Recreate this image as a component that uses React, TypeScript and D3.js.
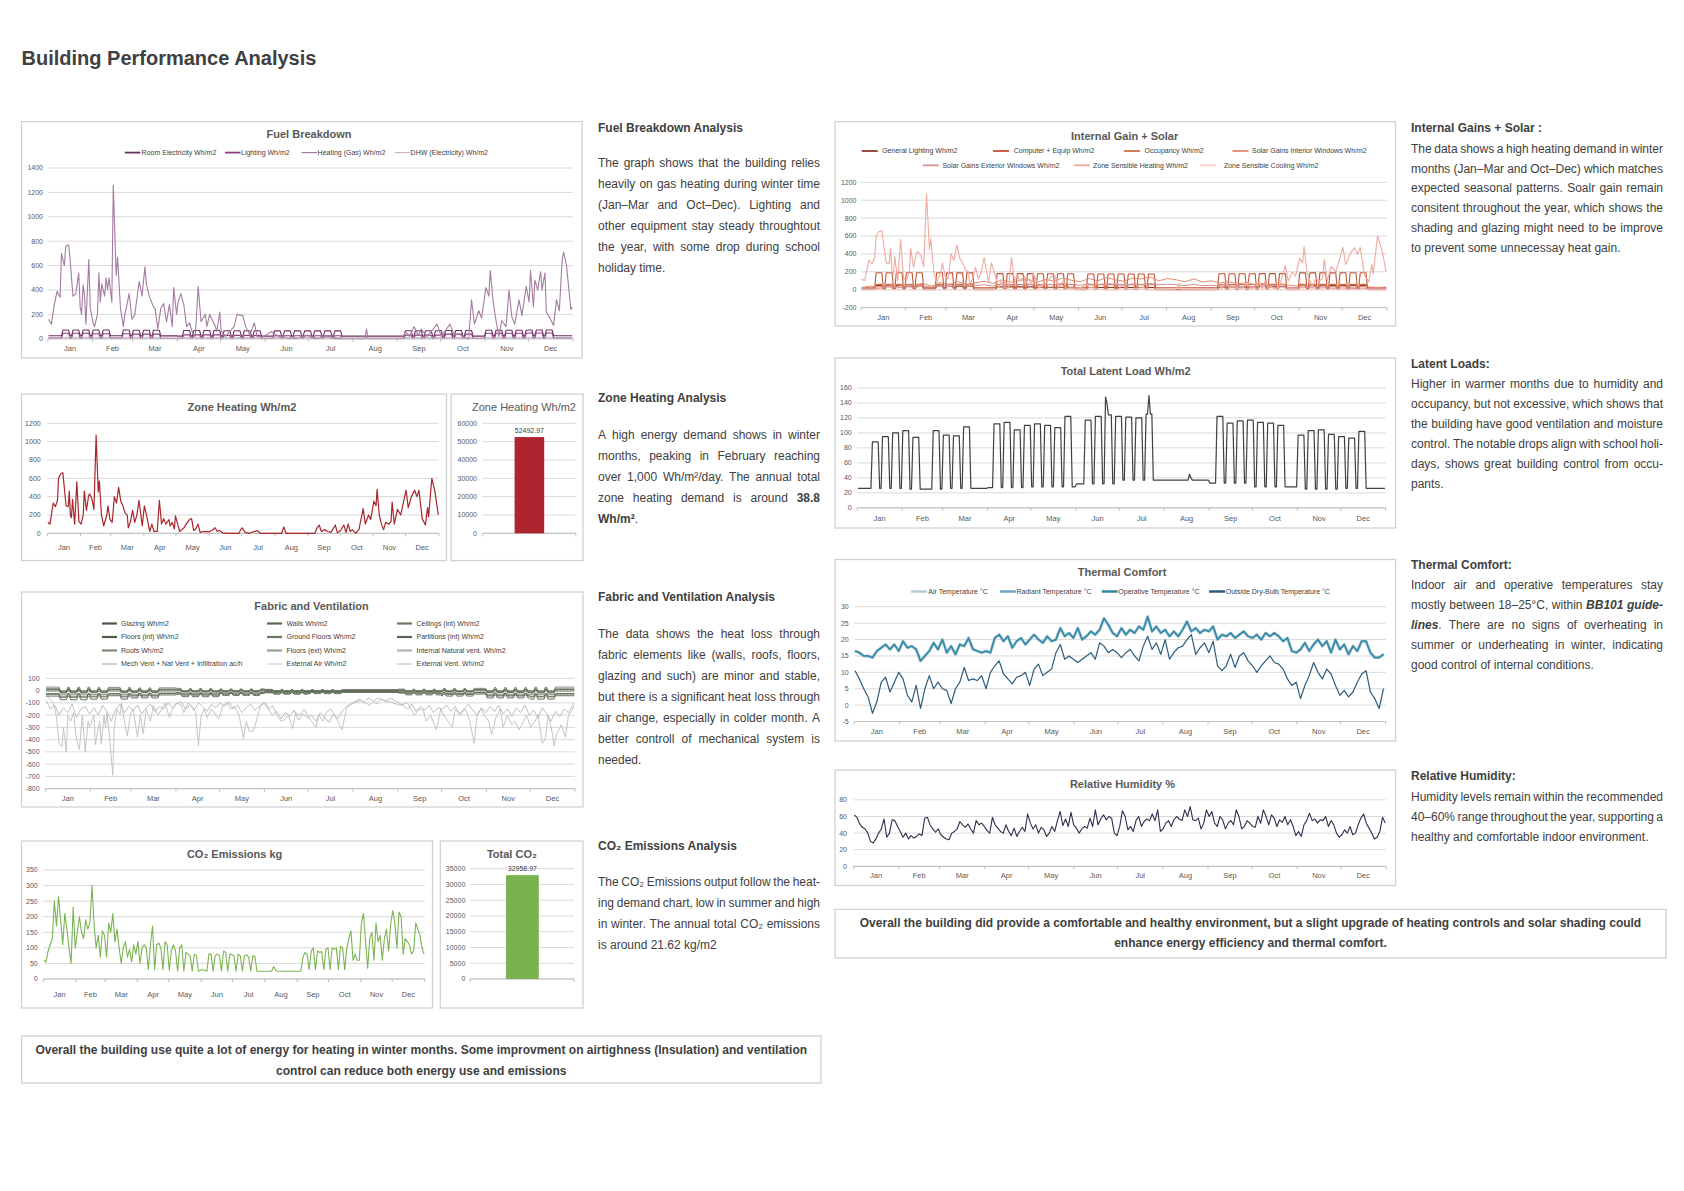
import React from 'react';
import * as d3 from 'd3';

type Pt = [number, number];

const FONT = '"Liberation Sans", Arial, Helvetica, sans-serif';
const TEXT = '#404040';
const AXIS_TEXT = '#595959';
const GRID = '#d9d9d9';
const BORDER = '#d2d2d2';

// ---------- calendar / axis data ----------
const MONTHS = ['Jan', 'Feb', 'Mar', 'Apr', 'May', 'Jun', 'Jul', 'Aug', 'Sep', 'Oct', 'Nov', 'Dec'];
const MONTH_STARTS = [0, 31, 59, 90, 120, 151, 181, 212, 243, 273, 304, 334, 365];
// Mondays of occupied school weeks (day of year)
const TERM_WEEK_STARTS = [10, 17, 24, 31, 38, 52, 59, 66, 73, 94, 101, 108, 115, 122, 129, 136, 143, 157, 164, 171, 178, 185, 192, 199, 248, 255, 262, 269, 276, 283, 290, 304, 311, 318, 325, 332, 339, 346];

// ---------- Fuel breakdown ----------
const ROOM_ELEC_ON = [72, 72, 70, 68, 66, 65, 65, 60, 66, 68, 70, 72];
const ROOM_ELEC_OFF = [25, 25, 24, 22, 22, 22, 22, 22, 22, 22, 24, 25];
const LIGHTING_ON = [45, 42, 38, 32, 28, 25, 25, 25, 30, 38, 45, 48];
const LIGHTING_OFF = [6, 6, 5, 5, 4, 4, 4, 4, 4, 5, 6, 6];
const DHW_ON = [12, 12, 12, 11, 11, 10, 10, 10, 11, 11, 12, 12];
const DHW_OFF = [3, 3, 3, 3, 3, 3, 3, 3, 3, 3, 3, 3];
const HEATING_GAS: Pt[] = [[0,160],[2,120],[4,280],[6,390],[8,340],[9,700],[11,600],[12,760],[14,770],[15,650],[17,350],[19,370],[21,540],[22,260],[23,200],[24,440],[25,360],[26,120],[28,650],[29,250],[31,130],[32,100],[34,200],[35,540],[36,300],[37,450],[39,350],[40,500],[41,400],[42,500],[44,300],[45,1260],[47,520],[48,670],[50,250],[52,100],[53,200],[54,250],[56,370],[58,160],[60,200],[63,470],[65,350],[67,590],[68,450],[70,350],[73,260],[74,250],[76,80],[78,250],[80,290],[82,140],[84,280],[86,100],[87,420],[89,200],[90,300],[92,370],[94,280],[96,100],[98,130],[100,50],[102,20],[104,430],[106,140],[109,200],[110,100],[112,200],[114,150],[116,100],[117,60],[119,220],[120,60],[123,20],[126,60],[129,100],[131,200],[135,190],[137,100],[140,30],[143,130],[145,20],[148,10],[151,30],[155,60],[160,20],[165,10],[170,0],[175,10],[180,30],[185,0],[195,20],[200,0],[220,0],[221,80],[222,0],[246,0],[248,60],[251,20],[254,100],[257,30],[259,80],[263,20],[266,60],[270,120],[273,20],[276,70],[279,120],[282,30],[285,40],[290,10],[292,0],[294,320],[296,120],[299,230],[301,170],[304,420],[306,350],[307,560],[309,300],[311,150],[313,20],[315,150],[318,100],[320,400],[322,180],[324,120],[327,320],[329,190],[332,430],[334,300],[335,560],[337,260],[338,480],[340,400],[342,550],[343,400],[345,540],[346,220],[348,180],[351,110],[353,320],[355,230],[357,650],[358,710],[360,600],[363,240],[364,260]];

// ---------- Zone heating ----------
const ZONE_HEATING: Pt[] = [[0,120],[2,100],[5,330],[7,290],[9,360],[10,600],[12,650],[14,660],[17,300],[19,290],[20,460],[21,200],[22,170],[23,370],[25,100],[27,560],[29,130],[31,100],[33,200],[34,460],[36,250],[38,410],[39,430],[41,380],[43,260],[45,1070],[47,450],[48,570],[50,200],[52,80],[55,200],[56,300],[58,150],[60,120],[62,400],[64,330],[66,500],[68,350],[70,300],[72,220],[74,200],[75,60],[77,120],[79,250],[81,120],[83,200],[85,360],[88,80],[90,300],[92,200],[95,20],[97,100],[99,20],[102,20],[104,360],[106,100],[108,160],[110,100],[113,150],[114,80],[116,120],[118,50],[119,190],[121,100],[123,20],[125,40],[127,60],[129,100],[132,150],[134,160],[136,30],[138,50],[140,100],[142,10],[145,20],[150,15],[153,30],[156,60],[158,20],[160,30],[163,5],[170,0],[178,0],[181,60],[184,10],[188,0],[195,30],[198,0],[218,0],[220,70],[222,0],[249,0],[251,60],[253,90],[255,20],[258,40],[261,20],[264,10],[268,90],[270,5],[273,30],[276,90],[278,10],[280,100],[282,20],[284,40],[287,0],[290,40],[294,270],[296,100],[299,200],[301,150],[304,350],[306,300],[307,480],[309,200],[311,100],[313,40],[315,120],[318,100],[320,130],[321,340],[323,100],[326,260],[329,200],[334,470],[336,280],[339,400],[342,470],[344,400],[346,470],[349,160],[352,90],[354,280],[355,180],[358,600],[361,450],[364,200]];
const ZONE_HEATING_TOTAL = 52492.97;

// ---------- Fabric & ventilation ----------
const GLAZING_ON = [-75, -70, -60, -50, -40, -30, -25, -25, -35, -45, -60, -70];
const GLAZING_OFF = [-45, -42, -36, -30, -24, -18, -15, -15, -20, -28, -36, -42];
const WALLS_ON = [-55, -52, -45, -38, -30, -22, -18, -18, -25, -32, -45, -52];
const WALLS_OFF = [-30, -28, -24, -20, -16, -12, -10, -10, -14, -18, -24, -28];
const CEILINGS_ON = [-5, -5, -4, -3, -2, -2, -1, -1, -2, -3, -4, -5];
const CEILINGS_OFF = [28, 26, 22, 18, 14, 10, 8, 8, 12, 18, 24, 28];
const FLOORS_INT_ON = [-20, -18, -15, -12, -10, -8, -6, -6, -8, -12, -16, -20];
const FLOORS_INT_OFF = [8, 8, 6, 5, 4, 3, 2, 2, 3, 5, 7, 8];
const GROUND_ON = [-35, -33, -30, -25, -20, -15, -12, -12, -18, -24, -30, -34];
const GROUND_OFF = [-25, -24, -21, -18, -14, -10, -8, -8, -12, -16, -21, -24];
const PARTITIONS_ON = [-12, -11, -10, -8, -6, -5, -4, -4, -5, -7, -10, -12];
const PARTITIONS_OFF = [15, 14, 12, 10, 8, 6, 5, 5, 6, 9, 12, 14];
const ROOFS_ON = [-50, -46, -40, -33, -26, -18, -14, -14, -20, -28, -40, -48];
const ROOFS_OFF = [-28, -26, -22, -18, -14, -10, -8, -8, -11, -16, -22, -26];
const FLOORS_EXT_ON = [-12, -11, -10, -8, -6, -4, -3, -3, -5, -7, -10, -12];
const FLOORS_EXT_OFF = [-8, -7, -6, -5, -4, -3, -2, -2, -3, -5, -6, -8];
const INT_NAT_VENT_ON = [-3, -3, -2, -2, -1, -1, -1, -1, -1, -2, -2, -3];
const INT_NAT_VENT_OFF = [0, 0, 0, 0, 0, 0, 0, 0, 0, 0, 0, 0];
const MECH_VENT_ACH_ON = [1, 1, 1, 1, 1, 1, 1, 1, 1, 1, 1, 1];
const MECH_VENT_ACH_OFF = [0.5, 0.5, 0.5, 0.5, 0.5, 0.5, 0.5, 0.5, 0.5, 0.5, 0.5, 0.5];
const EXTERNAL_AIR: Pt[] = [[1,-50],[5,-100],[7,-200],[9,-430],[11,-460],[12,-300],[14,-500],[15,-200],[17,-250],[19,-180],[20,-300],[21,-400],[23,-480],[25,-200],[27,-500],[29,-250],[30,-300],[33,-200],[34,-440],[37,-250],[38,-440],[40,-200],[41,-300],[42,-180],[44,-400],[46,-690],[47,-300],[49,-150],[51,-200],[52,-100],[54,-250],[56,-370],[58,-200],[60,-150],[63,-380],[65,-200],[67,-350],[69,-150],[72,-250],[74,-120],[77,-200],[80,-150],[82,-100],[85,-220],[87,-150],[90,-100],[93,-120],[95,-180],[98,-100],[101,-130],[103,-170],[105,-450],[107,-200],[109,-150],[111,-220],[114,-150],[117,-200],[119,-230],[122,-120],[125,-100],[127,-150],[130,-130],[133,-200],[136,-390],[138,-250],[140,-330],[143,-330],[146,-200],[148,-120],[151,-100],[154,-150],[156,-120],[159,-200],[162,-250],[164,-240],[167,-200],[170,-310],[172,-180],[175,-200],[178,-150],[180,-200],[183,-250],[186,-300],[188,-200],[191,-250],[193,-180],[196,-150],[199,-200],[201,-250],[204,-320],[207,-150],[209,-120],[212,-100],[217,-80],[223,-120],[228,-60],[233,-80],[239,-100],[244,-120],[249,-100],[254,-200],[257,-150],[260,-160],[262,-250],[265,-200],[269,-320],[272,-150],[274,-200],[277,-250],[280,-300],[282,-150],[285,-200],[289,-150],[292,-250],[295,-430],[297,-200],[300,-150],[302,-200],[305,-250],[307,-360],[310,-220],[313,-150],[315,-300],[318,-200],[321,-280],[323,-250],[326,-320],[329,-250],[331,-200],[334,-300],[337,-250],[339,-200],[342,-430],[344,-400],[346,-200],[349,-350],[350,-450],[352,-350],[355,-280],[358,-380],[360,-200],[363,-150],[364,-100]];
// every 3 days
const EXTERNAL_VENT = [-80,-150,-120,-200,-140,-180,-110,-220,-150,-130,-190,
  -140,-200,-120,-170,-250,-150,-110,-180,-130,
  -160,-120,-190,-140,-110,-170,-130,-150,-100,-140,
  -110,-90,-150,-120,-160,-100,-130,-170,-110,-140,
  -100,-130,-90,-150,-120,-180,-140,-110,-160,-130,-100,
  -150,-200,-170,-230,-180,-210,-160,-240,-190,-220,
  -200,-250,-180,-220,-260,-190,-230,-170,-130,-110,
  -90,-70,-100,-60,-80,-110,-70,-90,-60,-80,
  -100,-120,-150,-110,-170,-130,-160,-120,-180,-140,
  -150,-120,-170,-130,-190,-150,-110,-160,-200,-140,-180,
  -130,-170,-120,-190,-150,-210,-140,-180,-120,-200,
  -160,-220,-140,-190,-250,-170,-210,-150,-180,-120];

// ---------- CO2 ----------
const CO2_EVERY_2_DAYS = [60,55,90,110,130,250,170,265,190,110,210,160,100,50,230,100,150,200,150,130,190,160,180,300,175,100,140,70,155,140,70,180,150,210,120,160,100,50,100,120,70,95,55,110,80,120,50,
100,110,100,30,110,170,30,110,115,100,
30,120,110,28,90,110,90,25,100,110,
25,85,80,75,25,80,75,25,28,30,
28,25,80,80,25,75,80,75,25,90,
85,25,80,78,75,25,80,75,25,75,
78,70,25,75,72,25,25,25,25,25,
25,25,25,40,28,25,25,25,25,25,
25,25,25,25,25,25,25,70,85,80,
30,90,100,30,90,85,88,30,95,100,
30,100,95,100,30,105,100,30,100,130,
155,60,80,60,60,180,210,120,35,130,
150,60,180,120,140,60,130,160,90,175,
220,180,100,215,200,80,130,120,110,80,
90,180,160,140,100,80];
const CO2_TOTAL = 32958.97;

// ---------- Internal gains ----------
const EQUIP_ON = [190, 190, 188, 180, 178, 175, 175, 170, 178, 180, 188, 190];
const EQUIP_OFF = [22, 22, 22, 22, 22, 22, 22, 22, 22, 22, 22, 22];
const OCC_ON = [60, 60, 60, 58, 58, 56, 56, 56, 58, 60, 60, 60];
const OCC_OFF = [0, 0, 0, 0, 0, 0, 0, 0, 0, 0, 0, 0];
const SOLAR_INTERIOR = [25,40,30,55,35,60,45,70,40,80,55,90,60,75,95,70,110,85,100,120,80,115,95,130,105,90,125,100,135,110,95,130,120,140,100,125,110,90,120,85,100,75,90,65,80,55,70,45,60,50,40,55,35,45,30,40,25,35,30,25,30];
const SOLAR_EXTERIOR = [10,20,15,30,20,35,25,40,30,45,35,50,40,45,55,40,60,50,55,65,45,60,55,70,60,50,65,55,70,60,50,65,60,70,55,60,55,45,60,45,50,40,45,35,40,30,35,25,30,25,20,25,18,22,15,20,12,18,15,12,15];
const ZONE_COOLING = [0,0,0,0,0,0,0,2,0,5,0,8,3,10,5,12,8,4,10,6,2,0,0,0,0,0];

// ---------- Latent load ----------
const LATENT_WEEK_LEVEL = [88,95,100,103,94,103,97,96,108,112,114,104,110,112,110,107,122,117,122,124,122,121,120,125,122,113,116,117,114,113,110,97,103,104,98,95,93,102];
const LATENT_OFF = [26, 25, 26, 27, 28, 32, 37, 37, 33, 28, 25, 26];
const LATENT_PEAKS: Pt[] = [[171,148],[172,140],[201,150],[202,125],[229,45],[230,40]];

// ---------- Thermal comfort (every 3 days) ----------
const OPERATIVE_T = [16.5,16,15,15,14.5,16.5,17.5,18.5,17,18.5,16.5,19.5,17.5,18,17,13.5,15,16.5,19,17,20,16,18,15.5,18.5,18,20.5,17,16.5,16,16.5,16,20.5,21.5,19.5,21,17.5,19.5,20.5,18.5,20,21.5,20,19,21,19.5,20,23.5,21,22,20.5,23.5,20,21,22.5,21.5,23,26.5,24.5,22,21,23.5,21.5,23,22,24,23,27,22.5,24,22,23,21,22.5,21,23,25.5,22.5,23.5,22,23,22.5,24,20,21.5,21,22,20.5,21.5,22.5,21,20.5,21.5,20,22,21,22,21,19.5,20.5,16.5,16,17,19,16.5,18.5,20,18,19.5,16,20,17,18.5,15.5,18,16.5,19.5,19.5,16,14.5,14.5,15.5];
const OUTSIDE_T = [10.5,8,5,2.5,-2.5,1,7,8.5,4,7,10,8,3,1,6,-1,5,9,5,7,5,4.5,0.5,5,7,11.5,7.5,8,7.5,9,5,10,12,13.5,9.5,8,6.5,8.5,9,10,6,11,12.5,9,10,11,16,18.5,14,15,14,13,14,15,16,14,19,18,16,17,16,14.5,16,17,15,13.5,18,21,17,19,15.5,20,14,16,17.5,18,20,21.5,15.5,17.5,19,16,19.5,12,10.5,12,15.5,11.5,15,16,13.5,12,10,12,13.5,15,13,12.5,11,8,6,7,2,6,9,13,10,8,11,9.5,6,3,4.5,2.5,4,7,9.5,10.5,4,2,-1,5];

// ---------- Relative humidity ----------
const RH = [62,59,51,47,45,40,30,28,33,40,45,57,35,40,56,55,48,42,35,40,33,37,34,36,39,37,58,59,50,45,41,45,38,35,33,32,40,42,45,54,50,47,51,45,40,55,50,52,48,43,40,59,50,46,42,40,50,42,37,46,36,42,47,42,63,52,45,50,40,47,44,36,40,48,42,55,66,49,57,48,65,50,46,40,45,48,46,58,48,68,50,57,62,56,60,58,40,37,48,67,60,44,48,42,55,60,48,54,57,55,63,55,68,42,45,52,55,48,56,60,57,55,68,60,72,56,55,58,45,52,68,60,66,52,48,60,56,45,52,55,50,68,60,45,48,55,52,48,47,60,52,68,60,50,62,58,48,56,53,60,50,56,48,37,42,36,50,55,64,55,57,52,56,55,60,48,55,50,40,35,38,44,40,48,38,40,50,58,63,52,46,40,33,35,42,59,52];

// ---------- Texts ----------
const PAGE_TITLE = 'Building Performance Analysis';
const FUEL_HEAD = 'Fuel Breakdown Analysis';
const FUEL_TEXT = ['The graph shows that the building relies', 'heavily on gas heating during winter time', '(Jan–Mar and Oct–Dec). Lighting and', 'other equipment stay steady throughtout', 'the year, with some drop during school', 'holiday time.'];
const ZONE_HEAD = 'Zone Heating Analysis';
const ZONE_TEXT = ['A high energy demand shows in winter', 'months, peaking in February reaching', 'over 1,000 Wh/m²/day. The annual total', 'zone heating demand is around **38.8**', '**Wh/m²**.'];
const FABRIC_HEAD = 'Fabric and Ventilation Analysis';
const FABRIC_TEXT = ['The data shows the heat loss through', 'fabric elements like (walls, roofs, floors,', 'glazing and such) are minor and stable,', 'but there is a significant heat loss through', 'air change, especially in colder month. A', 'better controll of mechanical system is', 'needed.'];
const CO2_HEAD = 'CO₂ Emissions Analysis';
const CO2_TEXT = ['The CO₂ Emissions output follow the heat-', 'ing demand chart, low in summer and high', 'in winter. The annual total CO₂ emissions', 'is around 21.62 kg/m2'];
const GAIN_HEAD = 'Internal Gains + Solar :';
const GAIN_TEXT = ['The data shows a high heating demand in winter', 'months (Jan–Mar and Oct–Dec) which matches', 'expected seasonal patterns. Soalr gain remain', 'consitent throughout the year, which shows the', 'shading and glazing might need to be improve', 'to prevent some unnecessay heat gain.'];
const LATENT_HEAD = 'Latent Loads:';
const LATENT_TEXT = ['Higher in warmer months due to humidity and', 'occupancy, but not excessive, which shows that', 'the building have good ventilation and moisture', 'control. The notable drops align with school holi-', 'days, shows great building control from occu-', 'pants.'];
const THERMAL_HEAD = 'Thermal Comfort:';
const THERMAL_TEXT = ['Indoor air and operative temperatures stay', 'mostly between 18–25°C, within __BB101 guide-__', '__lines__. There are no signs of overheating in', 'summer or underheating in winter, indicating', 'good control of internal conditions.'];
const RH_HEAD = 'Relative Humidity:';
const RH_TEXT = ['Humidity levels remain within the recommended', '40–60% range throughout the year, supporting a', 'healthy and comfortable indoor environment.'];
const LEFT_SUMMARY = ['Overall the building use quite a lot of energy for heating in winter months. Some improvment on airtighness (Insulation) and ventilation', 'control can reduce both energy use and emissions'];
const RIGHT_SUMMARY = ['Overall the building did provide a comfortable and healthy environment, but a slight upgrade of heating controls and solar shading could', 'enhance energy efficiency and thermal comfort.'];

// ---------- helpers ----------
const DAYS = d3.range(365);
const monthOf = (d: number) => Math.min(11, d3.bisectRight(MONTH_STARTS, d) - 1);
const termWeek = (d: number) => TERM_WEEK_STARTS.findIndex((s) => d >= s && d <= s + 4);
const byWeek = (on: number[], off: number[]): Pt[] => DAYS.map((d) => { const w = termWeek(d); return [d, w >= 0 ? on[w] : off[monthOf(d)]] as Pt; });
const byMonth = (on: number[], off: number[]): Pt[] => DAYS.map((d) => [d, termWeek(d) >= 0 ? on[monthOf(d)] : off[monthOf(d)]] as Pt);
const override = (pts: Pt[], ov: Pt[]): Pt[] => { const m = new Map(ov); return pts.map(([d, v]) => [d, m.has(d) ? (m.get(d) as number) : v] as Pt); };
const stepped = (vals: number[], step: number): Pt[] => vals.map((v, i) => [i * step, v] as Pt);
const spread = (vals: number[]): Pt[] => vals.map((v, i) => [(i * 364) / (vals.length - 1), v] as Pt);

let _ctx: CanvasRenderingContext2D | null = null;
function measure(t: string, size: number, bold = false, italic = false) {
  if (!_ctx) _ctx = document.createElement('canvas').getContext('2d');
  if (!_ctx) return t.length * size * 0.5;
  _ctx.font = `${italic ? 'italic ' : ''}${bold ? 'bold ' : ''}${size}px ${FONT}`;
  return _ctx.measureText(t).width;
}

type Run = { t: string; b?: boolean; i?: boolean };
function parseLine(s: string): Run[] {
  const out: Run[] = [];
  const re = /\*\*(.+?)\*\*|__(.+?)__/g;
  let last = 0;
  let m: RegExpExecArray | null;
  while ((m = re.exec(s))) {
    if (m.index > last) out.push({ t: s.slice(last, m.index) });
    if (m[1] !== undefined) out.push({ t: m[1], b: true });
    else out.push({ t: m[2], b: true, i: true });
    last = re.lastIndex;
  }
  if (last < s.length) out.push({ t: s.slice(last) });
  return out;
}
function toWords(runs: Run[]): Run[][] {
  const words: Run[][] = [[]];
  runs.forEach((r) => {
    r.t.split(' ').forEach((p, k) => {
      if (k > 0) words.push([]);
      if (p) words[words.length - 1].push({ ...r, t: p });
    });
  });
  return words.filter((w) => w.length > 0);
}

function JustLine({ x, w, y, s, justify, size = 12 }: { x: number; w: number; y: number; s: string; justify: boolean; size?: number }) {
  const words = toWords(parseLine(s));
  const widths = words.map((wd) => wd.reduce((a, r) => a + measure(r.t, size, r.b, r.i), 0));
  const total = d3.sum(widths);
  const space = measure(' ', size);
  const gap = justify && words.length > 1 ? (w - total) / (words.length - 1) : space;
  let cx = x;
  const xs = widths.map((wd) => { const p = cx; cx += wd + gap; return p; });
  return (
    <text y={y} fontSize={size} fill={TEXT}>
      {words.map((wd, k) => (
        <tspan key={k} x={xs[k]}>
          {wd.map((r, j) => (
            <tspan key={j} fontWeight={r.b ? 'bold' : 'normal'} fontStyle={r.i ? 'italic' : 'normal'}>{r.t}</tspan>
          ))}
        </tspan>
      ))}
    </text>
  );
}

function Paragraph({ x, w, head, headY, lines, y0, lh }: { x: number; w: number; head: string; headY: number; lines: string[]; y0: number; lh: number }) {
  return (
    <g>
      <text x={x} y={headY + 4.3} fontSize={12} fontWeight="bold" fill={TEXT}>{head}</text>
      {lines.map((ln, k) => (
        <JustLine key={k} x={x} w={w} y={y0 + k * lh + 4.3} s={ln} justify={k < lines.length - 1} />
      ))}
    </g>
  );
}

function Summary({ box, lines, ys, target }: { box: number[]; lines: string[]; ys: number[]; target: number }) {
  const size = (12 * target) / measure(lines[0], 12, true);
  const cx = (box[0] + box[2]) / 2;
  return (
    <g>
      <rect x={box[0]} y={box[1]} width={box[2] - box[0]} height={box[3] - box[1]} fill="#fff" stroke={BORDER} strokeWidth={1.3} />
      {lines.map((l, k) => (
        <text key={k} x={cx} y={ys[k] + size * 0.36} textAnchor="middle" fontSize={size} fontWeight="bold" fill={TEXT}>{l}</text>
      ))}
    </g>
  );
}

interface Ser { name: string; pts: Pt[]; color: string; w: number; lw?: number }
interface Leg { i: number; lx: number; tx: number; y: number; len?: number }
interface LSpec { box: number[]; title: string; tx: number; ty: number; px: [number, number]; py: [number, number]; dom: [number, number]; step: number; lr: number; my: number; series: Ser[]; legend: Leg[] }

function LineChart({ s }: { s: LSpec }) {
  const x = d3.scaleLinear().domain([0, 365]).range(s.px);
  const y = d3.scaleLinear().domain(s.dom).range([s.py[1], s.py[0]]);
  const ticks = d3.range(s.dom[0], s.dom[1] + s.step / 2, s.step);
  const line = d3.line<Pt>().x((d) => x(d[0] + 0.5)).y((d) => y(d[1]));
  const [bx0, by0, bx1, by1] = s.box;
  const y0 = y(s.dom[0]);
  return (
    <g>
      <rect x={bx0} y={by0} width={bx1 - bx0} height={by1 - by0} fill="#fff" stroke={BORDER} strokeWidth={1.3} />
      <text x={s.tx} y={s.ty + 4} textAnchor="middle" fontWeight="bold" fontSize={11} fill={AXIS_TEXT}>{s.title}</text>
      {s.legend.map((lg, k) => {
        const se = s.series[lg.i];
        return (
          <g key={k}>
            <line x1={lg.lx} x2={lg.lx + (lg.len ?? 16)} y1={lg.y} y2={lg.y} stroke={se.color} strokeWidth={se.lw ?? 1.8} />
            <text x={lg.tx} y={lg.y + 2.4} fontSize={7} fill={TEXT}>{se.name}</text>
          </g>
        );
      })}
      {ticks.map((t) => (
        <line key={'g' + t} x1={s.px[0]} x2={s.px[1]} y1={y(t)} y2={y(t)} stroke={GRID} strokeWidth={1} />
      ))}
      <line x1={s.px[0]} x2={s.px[1]} y1={y0} y2={y0} stroke="#bfbfbf" strokeWidth={1} />
      {MONTH_STARTS.map((m) => (
        <line key={'t' + m} x1={x(m)} x2={x(m)} y1={y0} y2={y0 + 3} stroke="#bfbfbf" strokeWidth={1} />
      ))}
      {ticks.map((t) => (
        <text key={'l' + t} x={s.lr} y={y(t) + 2.4} textAnchor="end" fontSize={7} fill={AXIS_TEXT}>{String(t)}</text>
      ))}
      {MONTHS.map((m, i) => (
        <text key={m} x={x((MONTH_STARTS[i] + MONTH_STARTS[i + 1]) / 2)} y={s.my + 2.7} textAnchor="middle" fontSize={7.5} fill={AXIS_TEXT}>{m}</text>
      ))}
      {s.series.map((se, k) => (
        <path key={'s' + k} d={line(se.pts) ?? ''} fill="none" stroke={se.color} strokeWidth={se.w} strokeLinejoin="round" />
      ))}
    </g>
  );
}

interface BSpec { box: number[]; title: string; bold: boolean; tx: number; ty: number; px: [number, number]; py: [number, number]; max: number; step: number; lr: number; value: number; bar: [number, number]; color: string }

function BarChart({ s }: { s: BSpec }) {
  const y = d3.scaleLinear().domain([0, s.max]).range([s.py[1], s.py[0]]);
  const ticks = d3.range(0, s.max + s.step / 2, s.step);
  const [bx0, by0, bx1, by1] = s.box;
  return (
    <g>
      <rect x={bx0} y={by0} width={bx1 - bx0} height={by1 - by0} fill="#fff" stroke={BORDER} strokeWidth={1.3} />
      <text x={s.tx} y={s.ty + 4} textAnchor="middle" fontWeight={s.bold ? 'bold' : 'normal'} fontSize={11} fill={AXIS_TEXT}>{s.title}</text>
      {ticks.map((t) => (
        <line key={'g' + t} x1={s.px[0]} x2={s.px[1]} y1={y(t)} y2={y(t)} stroke={GRID} strokeWidth={1} />
      ))}
      <line x1={s.px[0]} x2={s.px[1]} y1={y(0)} y2={y(0)} stroke="#bfbfbf" />
      {s.px.map((p) => <line key={'e' + p} x1={p} x2={p} y1={y(0)} y2={y(0) + 3} stroke="#bfbfbf" />)}
      {ticks.map((t) => (
        <text key={'l' + t} x={s.lr} y={y(t) + 2.4} textAnchor="end" fontSize={7} fill={AXIS_TEXT}>{String(t)}</text>
      ))}
      <rect x={s.bar[0]} y={y(s.value)} width={s.bar[1] - s.bar[0]} height={y(0) - y(s.value)} fill={s.color} />
      <text x={(s.bar[0] + s.bar[1]) / 2} y={y(s.value) - 4} textAnchor="middle" fontSize={7} fill={TEXT}>{s.value.toFixed(2)}</text>
    </g>
  );
}

export default function App() {
  const lighting = byMonth(LIGHTING_ON, LIGHTING_OFF);

  const fuel: LSpec = {
    box: [21.5, 121.6, 582, 358], title: 'Fuel Breakdown', tx: 309, ty: 134.2,
    px: [47.8, 573], py: [168, 338.8], dom: [0, 1400], step: 200, lr: 43, my: 348,
    series: [
      { name: 'Room Electricity Wh/m2', pts: byMonth(ROOM_ELEC_ON, ROOM_ELEC_OFF), color: '#6e2f60', w: 1.1 },
      { name: 'Lighting Wh/m2', pts: lighting, color: '#8e3d80', w: 1.1 },
      { name: 'Heating (Gas) Wh/m2', pts: HEATING_GAS, color: '#a57ba1', w: 1.1, lw: 1.2 },
      { name: 'DHW (Electricity) Wh/m2', pts: byMonth(DHW_ON, DHW_OFF), color: '#c3adc0', w: 1, lw: 1 },
    ],
    legend: [
      { i: 0, lx: 124.8, tx: 141.6, y: 152.6, len: 15.5 },
      { i: 1, lx: 225, tx: 241, y: 152.6, len: 15.5 },
      { i: 2, lx: 301.6, tx: 317.6, y: 152.6, len: 15.5 },
      { i: 3, lx: 395, tx: 410.6, y: 152.6, len: 15.5 },
    ],
  };

  const zone: LSpec = {
    box: [21.5, 394, 446.5, 560.6], title: 'Zone Heating Wh/m2', tx: 241.9, ty: 406.7,
    px: [47.3, 438.8], py: [423.3, 533.3], dom: [0, 1200], step: 200, lr: 40.7, my: 547.3,
    series: [{ name: 'Zone Heating Wh/m2', pts: ZONE_HEATING, color: '#a9272c', w: 1.2 }],
    legend: [],
  };

  const zoneBar: BSpec = {
    box: [451, 394, 583, 560.6], title: 'Zone Heating Wh/m2', bold: false, tx: 524, ty: 406.7,
    px: [482.7, 575.8], py: [423.3, 533.3], max: 60000, step: 10000, lr: 477,
    value: ZONE_HEATING_TOTAL, bar: [514.6, 544.2], color: '#ae252f',
  };

  const fabricColors = ['#4a5846', '#5a6853', '#6b7862', '#4f5d4b', '#66755f', '#566650', '#7f8b78', '#98a192', '#aeb6aa', '#9aa097', '#c3c6c1', '#b3b8b0'];
  const fabricSeries: Ser[] = [
    { name: 'Glazing Wh/m2', pts: byMonth(GLAZING_ON, GLAZING_OFF), color: fabricColors[0], w: 0.9, lw: 2.2 },
    { name: 'Walls Wh/m2', pts: byMonth(WALLS_ON, WALLS_OFF), color: fabricColors[1], w: 0.9, lw: 2.2 },
    { name: 'Ceilings (int) Wh/m2', pts: byMonth(CEILINGS_ON, CEILINGS_OFF), color: fabricColors[2], w: 0.9, lw: 2.2 },
    { name: 'Floors (int) Wh/m2', pts: byMonth(FLOORS_INT_ON, FLOORS_INT_OFF), color: fabricColors[3], w: 0.9, lw: 2.2 },
    { name: 'Ground Floors Wh/m2', pts: byMonth(GROUND_ON, GROUND_OFF), color: fabricColors[4], w: 0.9, lw: 2.2 },
    { name: 'Partitions (int) Wh/m2', pts: byMonth(PARTITIONS_ON, PARTITIONS_OFF), color: fabricColors[5], w: 0.9, lw: 2.2 },
    { name: 'Roofs Wh/m2', pts: byMonth(ROOFS_ON, ROOFS_OFF), color: fabricColors[6], w: 0.9, lw: 2.2 },
    { name: 'Floors (ext) Wh/m2', pts: byMonth(FLOORS_EXT_ON, FLOORS_EXT_OFF), color: fabricColors[7], w: 0.9, lw: 2.2 },
    { name: 'Internal Natural vent. Wh/m2', pts: byMonth(INT_NAT_VENT_ON, INT_NAT_VENT_OFF), color: fabricColors[8], w: 0.9, lw: 2.2 },
    { name: 'Mech Vent + Nat Vent + Infiltration ac/h', pts: byMonth(MECH_VENT_ACH_ON, MECH_VENT_ACH_OFF), color: fabricColors[9], w: 0.8, lw: 1 },
    { name: 'External Air Wh/m2', pts: EXTERNAL_AIR, color: fabricColors[10], w: 1, lw: 1 },
    { name: 'External Vent. Wh/m2', pts: stepped(EXTERNAL_VENT, 3), color: fabricColors[11], w: 0.9, lw: 1 },
  ];
  const drawOrder = [10, 11, 9, 8, 7, 6, 5, 4, 3, 2, 1, 0];
  const rowsY = [623.5, 637, 650.5, 664];
  const colLX = [102, 267, 397];
  const colTX = [121, 286.5, 416.5];
  const fabric: LSpec = {
    box: [21.5, 592, 583, 807], title: 'Fabric and Ventilation', tx: 311.5, ty: 605.5,
    px: [45.3, 575], py: [678.3, 788.7], dom: [-800, 100], step: 100, lr: 39.6, my: 798,
    series: drawOrder.map((k) => fabricSeries[k]),
    legend: fabricSeries.map((_, k) => ({ i: drawOrder.indexOf(k), lx: colLX[k % 3], tx: colTX[k % 3], y: rowsY[Math.floor(k / 3)], len: 15 })),
  };

  const co2: LSpec = {
    box: [21.5, 841, 432.5, 1008], title: 'CO₂ Emissions kg', tx: 234.6, ty: 853.7,
    px: [43.4, 424.6], py: [870, 979], dom: [0, 350], step: 50, lr: 37.7, my: 994.3,
    series: [{ name: 'CO2', pts: stepped(CO2_EVERY_2_DAYS, 2), color: '#7bb552', w: 1.1 }],
    legend: [],
  };

  const co2Bar: BSpec = {
    box: [440.3, 841, 583, 1008], title: 'Total CO₂', bold: true, tx: 511.9, ty: 853.7,
    px: [470.3, 574], py: [868.7, 979], max: 35000, step: 5000, lr: 465.3,
    value: CO2_TOTAL, bar: [506, 538.8], color: '#7ab24f',
  };

  const gain: LSpec = {
    box: [835, 121.6, 1395.6, 326], title: 'Internal Gain + Solar', tx: 1124.6, ty: 135.6,
    px: [861, 1386.9], py: [182.3, 307.6], dom: [-200, 1200], step: 200, lr: 856.5, my: 317.6,
    series: [
      { name: 'General Lighting Wh/m2', pts: lighting, color: '#8b3a26', w: 1.1 },
      { name: 'Computer + Equip Wh/m2', pts: byMonth(EQUIP_ON, EQUIP_OFF), color: '#c05234', w: 1.1 },
      { name: 'Occupancy Wh/m2', pts: byMonth(OCC_ON, OCC_OFF), color: '#d07149', w: 1.1 },
      { name: 'Solar Gains Interior Windows Wh/m2', pts: spread(SOLAR_INTERIOR), color: '#e38c70', w: 1 },
      { name: 'Solar Gains Exterior Windows Wh/m2', pts: spread(SOLAR_EXTERIOR), color: '#d99092', w: 1 },
      { name: 'Zone Sensible Heating Wh/m2', pts: ZONE_HEATING, color: '#efaa9f', w: 1.1 },
      { name: 'Zone Sensible Cooling Wh/m2', pts: spread(ZONE_COOLING), color: '#f5cdc8', w: 1 },
    ],
    legend: [
      { i: 0, lx: 861.7, tx: 882, y: 151 },
      { i: 1, lx: 993, tx: 1013.7, y: 151 },
      { i: 2, lx: 1123.9, tx: 1144.6, y: 151 },
      { i: 3, lx: 1232.4, tx: 1252, y: 151 },
      { i: 4, lx: 922.8, tx: 942.4, y: 165.3 },
      { i: 5, lx: 1074, tx: 1093, y: 165.3 },
      { i: 6, lx: 1200.3, tx: 1223.9, y: 165.3 },
    ],
  };

  const latent: LSpec = {
    box: [835, 358, 1395.6, 528], title: 'Total Latent Load Wh/m2', tx: 1125.7, ty: 371.3,
    px: [857.2, 1385.7], py: [388, 507.8], dom: [0, 160], step: 20, lr: 851.7, my: 518.5,
    series: [{ name: 'Latent', pts: override(byWeek(LATENT_WEEK_LEVEL, LATENT_OFF), LATENT_PEAKS), color: '#404040', w: 1.2 }],
    legend: [],
  };

  const op = stepped(OPERATIVE_T, 3);
  const thermal: LSpec = {
    box: [835, 559.5, 1395.6, 741], title: 'Thermal Comfort', tx: 1122, ty: 571.5,
    px: [854.3, 1385.7], py: [606.8, 721.5], dom: [-5, 30], step: 5, lr: 848.7, my: 731.5,
    series: [
      { name: 'Air Temperature °C', pts: op, color: '#b6cbd4', w: 3, lw: 2.5 },
      { name: 'Radiant Temperature °C', pts: op, color: '#6aa9c0', w: 2, lw: 2.5 },
      { name: 'Operative Temperature °C', pts: op, color: '#2f87a8', w: 1.2, lw: 2.5 },
      { name: 'Outside Dry-Bulb Temperature °C', pts: stepped(OUTSIDE_T, 3), color: '#2d5b7b', w: 1.2, lw: 2.5 },
    ],
    legend: [
      { i: 0, lx: 910.9, tx: 928.3, y: 591.5 },
      { i: 1, lx: 999.8, tx: 1016.5, y: 591.5 },
      { i: 2, lx: 1101.7, tx: 1118.3, y: 591.5 },
      { i: 3, lx: 1209.1, tx: 1225.7, y: 591.5 },
    ],
  };

  const rh: LSpec = {
    box: [835, 770, 1395.6, 885.5], title: 'Relative Humidity %', tx: 1122.5, ty: 784.4,
    px: [853.5, 1386], py: [799.9, 866.3], dom: [0, 80], step: 20, lr: 847, my: 875.7,
    series: [{ name: 'RH', pts: spread(RH), color: '#2c2e4c', w: 1.1 }],
    legend: [],
  };

  return (
    <svg width={1684} height={1191} viewBox="0 0 1684 1191" style={{ position: 'absolute', left: 0, top: 0, background: '#fff' }} fontFamily={FONT}>
      <rect x={0} y={0} width={1684} height={1191} fill="#fff" />
      <text x={21.5} y={65} fontSize={20} fontWeight="bold" fill={TEXT}>{PAGE_TITLE}</text>

      <LineChart s={fuel} />
      <LineChart s={zone} />
      <BarChart s={zoneBar} />
      <LineChart s={fabric} />
      <LineChart s={co2} />
      <BarChart s={co2Bar} />
      <LineChart s={gain} />
      <LineChart s={latent} />
      <LineChart s={thermal} />
      <LineChart s={rh} />

      <Paragraph x={598} w={222} head={FUEL_HEAD} headY={127.5} lines={FUEL_TEXT} y0={162.5} lh={21} />
      <Paragraph x={598} w={222} head={ZONE_HEAD} headY={398} lines={ZONE_TEXT} y0={434.7} lh={21} />
      <Paragraph x={598} w={222} head={FABRIC_HEAD} headY={597} lines={FABRIC_TEXT} y0={634} lh={21} />
      <Paragraph x={598} w={222} head={CO2_HEAD} headY={846} lines={CO2_TEXT} y0={882} lh={21} />

      <Paragraph x={1411} w={252} head={GAIN_HEAD} headY={127.7} lines={GAIN_TEXT} y0={148.3} lh={19.9} />
      <Paragraph x={1411} w={252} head={LATENT_HEAD} headY={363.3} lines={LATENT_TEXT} y0={383.3} lh={20} />
      <Paragraph x={1411} w={252} head={THERMAL_HEAD} headY={564.5} lines={THERMAL_TEXT} y0={585} lh={19.8} />
      <Paragraph x={1411} w={252} head={RH_HEAD} headY={776} lines={RH_TEXT} y0={796.3} lh={20.3} />

      <Summary box={[835, 909.4, 1666, 957.9]} lines={RIGHT_SUMMARY} ys={[922.2, 943]} target={782} />
      <Summary box={[21.5, 1036, 821, 1083]} lines={LEFT_SUMMARY} ys={[1050, 1070.6]} target={773} />
    </svg>
  );
}
